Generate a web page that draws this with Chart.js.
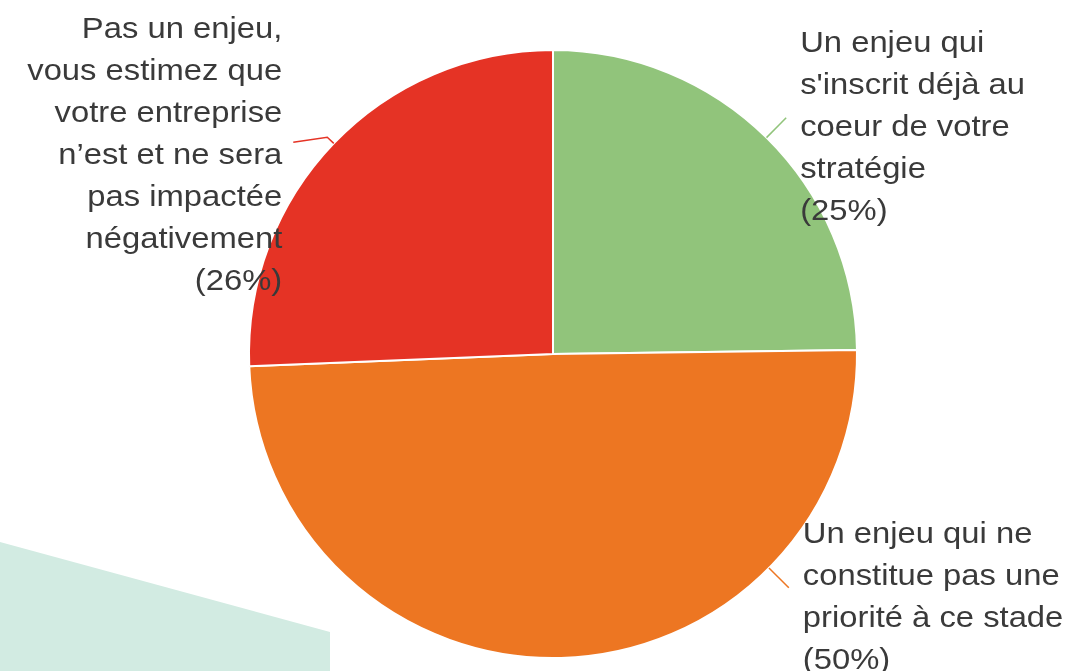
<!DOCTYPE html>
<html>
<head>
<meta charset="utf-8">
<script src="https://cdn.jsdelivr.net/npm/chart.js@4"></script>
<style>
  html, body { margin: 0; padding: 0; background: #ffffff; }
  #wrap { position: relative; width: 1088px; height: 671px; }
  #bg {
    position: absolute; left: 0; top: 0; width: 1088px; height: 671px;
    background: #d2ebe2;
    clip-path: polygon(0 542px, 330px 632px, 330px 671px, 0 671px);
  }
  canvas { position: absolute; left: 0; top: 0; }
</style>
</head>
<body>
<div id="wrap">
  <div id="bg"></div>
  <canvas id="myChart" width="1088" height="671"></canvas>
</div>
<script>
const labels = [
  ["Un enjeu qui", "s'inscrit déjà au", "coeur de votre", "stratégie"],
  ["Un enjeu qui ne", "constitue pas une", "priorité à ce stade"],
  ["Pas un enjeu,", "vous estimez que", "votre entreprise", "n\u2019est et ne sera", "pas impactée", "négativement"],
];
const percentLabels = ["(25%)", "(50%)", "(26%)"];
const values = [29, 58, 30];
const colors = ["#91c47b", "#ed7622", "#e53325"];

// where the leader line leaves each slice (fraction of the slice's sweep)
const anchorFraction = [0.5, 0.255, 0.5];

const data = {
  labels: labels.map((l) => l.join(" ")),
  datasets: [
    {
      data: values,
      backgroundColor: colors,
      borderColor: "#ffffff",
      borderWidth: 2,
    },
  ],
};

// outside labels with leader lines
const outsideLabels = {
  id: "outsideLabels",
  afterDatasetsDraw(chart) {
    const { ctx } = chart;
    const arcs = chart.getDatasetMeta(0).data;
    const lineHeight = 42;
    const stretch = 1.13;

    ctx.save();
    ctx.font = "29px Arial";
    ctx.textBaseline = "middle";

    arcs.forEach((arc, i) => {
      const { x, y, startAngle, endAngle, outerRadius } = arc.getProps(
        ["x", "y", "startAngle", "endAngle", "outerRadius"],
        true
      );
      const a = startAngle + (endAngle - startAngle) * anchorFraction[i];
      const cos = Math.cos(a);
      const sin = Math.sin(a);
      const right = cos >= 0;

      const x0 = x + cos * outerRadius;
      const y0 = y + sin * outerRadius;
      let pts;
      if (right) {
        pts = [
          [x0, y0],
          [x + cos * (outerRadius + 28), y + sin * (outerRadius + 28)],
        ];
      } else {
        const ex = x + cos * (outerRadius + 9);
        const ey = y + sin * (outerRadius + 9);
        pts = [
          [x0, y0],
          [ex, ey],
          [ex - 34, ey + 5],
        ];
      }

      ctx.strokeStyle = colors[i];
      ctx.lineWidth = 1.5;
      ctx.beginPath();
      ctx.moveTo(pts[0][0], pts[0][1]);
      pts.slice(1).forEach((p) => ctx.lineTo(p[0], p[1]));
      ctx.stroke();

      const end = pts[pts.length - 1];
      const lines = labels[i].concat([percentLabels[i]]);
      const tx = right ? end[0] + 14 : end[0] - 11;
      const blockCenter = end[1] + (right ? 10 : 14);
      const firstY = blockCenter - ((lines.length - 1) * lineHeight) / 2;

      ctx.fillStyle = "#3a3a3a";
      ctx.textAlign = right ? "left" : "right";
      lines.forEach((line, k) => {
        ctx.save();
        ctx.translate(tx, firstY + k * lineHeight);
        ctx.scale(stretch, 1);
        ctx.fillText(line, 0, 0);
        ctx.restore();
      });
    });
    ctx.restore();
  },
};

const config = {
  type: "pie",
  data: data,
  options: {
    responsive: false,
    animation: false,
    layout: {
      padding: { top: 49, bottom: 12, left: 18, right: 0 },
    },
    plugins: {
      legend: { display: false },
      tooltip: { enabled: false },
    },
  },
  plugins: [outsideLabels],
};

const myChart = new Chart(document.getElementById("myChart"), config);
</script>
</body>
</html>
